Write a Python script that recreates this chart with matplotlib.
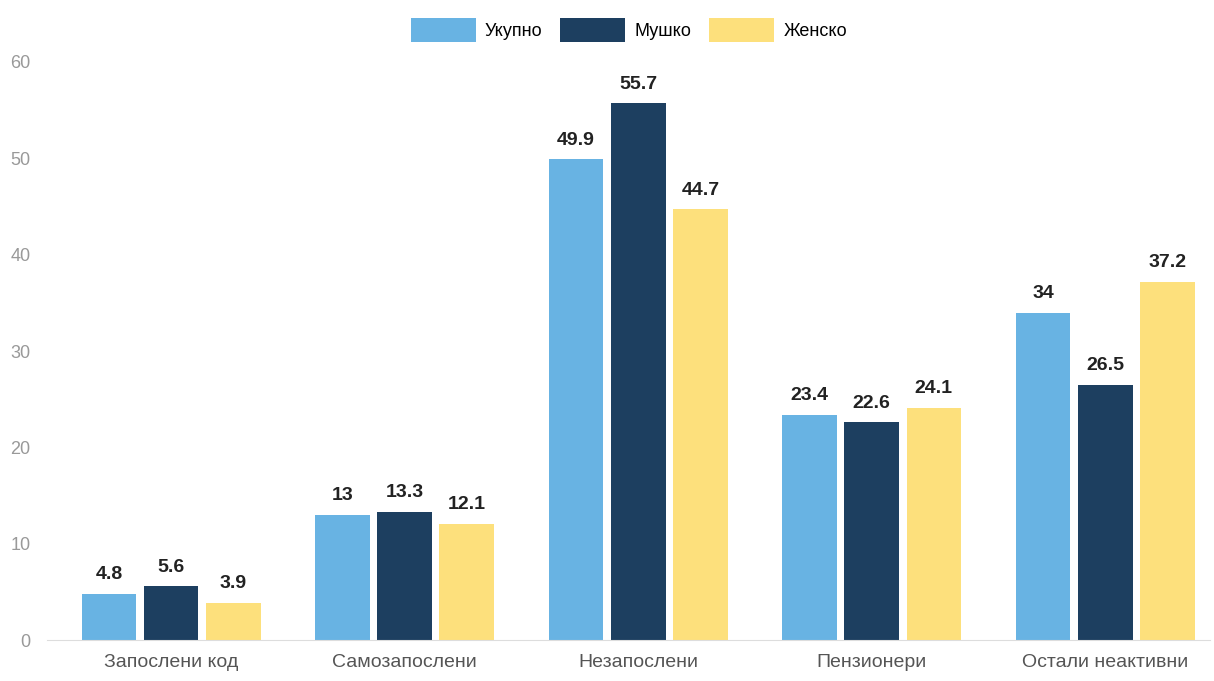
import matplotlib.pyplot as plt
import numpy as np

categories = ["Запослени код", "Самозапослени", "Незапослени", "Пензионери", "Остали неактивни"]
series = ["Укупно", "Мушко", "Женско"]
ukupno = [4.8, 13, 49.9, 23.4, 34]
musko = [5.6, 13.3, 55.7, 22.6, 26.5]
zensko = [3.9, 12.1, 44.7, 24.1, 37.2]
colors = ["#68b3e3", "#1d3f60", "#fde07c"]

plt.rcParams['font.family'] = ['Liberation Sans Narrow', 'Liberation Sans', 'DejaVu Sans']

fig = plt.figure(figsize=(12.14, 6.81), dpi=100)
ax = fig.add_axes([0.039, 0.06, 0.958, 0.849])

x = np.arange(len(categories))
w = 0.234
off = 0.266
for i, (vals, name) in enumerate(zip([ukupno, musko, zensko], series)):
    bars = ax.bar(x + (i - 1) * off, vals, w, color=colors[i], label=name)
    for b, v in zip(bars, vals):
        ax.text(b.get_x() + b.get_width() / 2, v + 1.1, f"{v:g}", ha="center", va="bottom",
                fontsize=14, fontweight="bold", color="#222222")

ax.set_ylim(0, 60)
ax.set_xlim(-0.53, 4.45)
ax.set_yticks(range(0, 61, 10))
ax.set_xticks(x)
ax.set_xticklabels(categories, fontsize=14, color="#555555")
ax.tick_params(axis="y", labelsize=13, labelcolor="#999999", length=0, pad=12)
ax.tick_params(axis="x", length=0, pad=10)
for s in ["top", "right", "left"]:
    ax.spines[s].set_visible(False)
ax.spines["bottom"].set_color("#dddddd")

ax.legend(loc="upper center", bbox_to_anchor=(0.5, 1.105), ncol=3, frameon=False,
          fontsize=13, handlelength=3.6, handleheight=1.7, columnspacing=1.0, handletextpad=0.5)

fig.savefig("out.png", dpi=100)
